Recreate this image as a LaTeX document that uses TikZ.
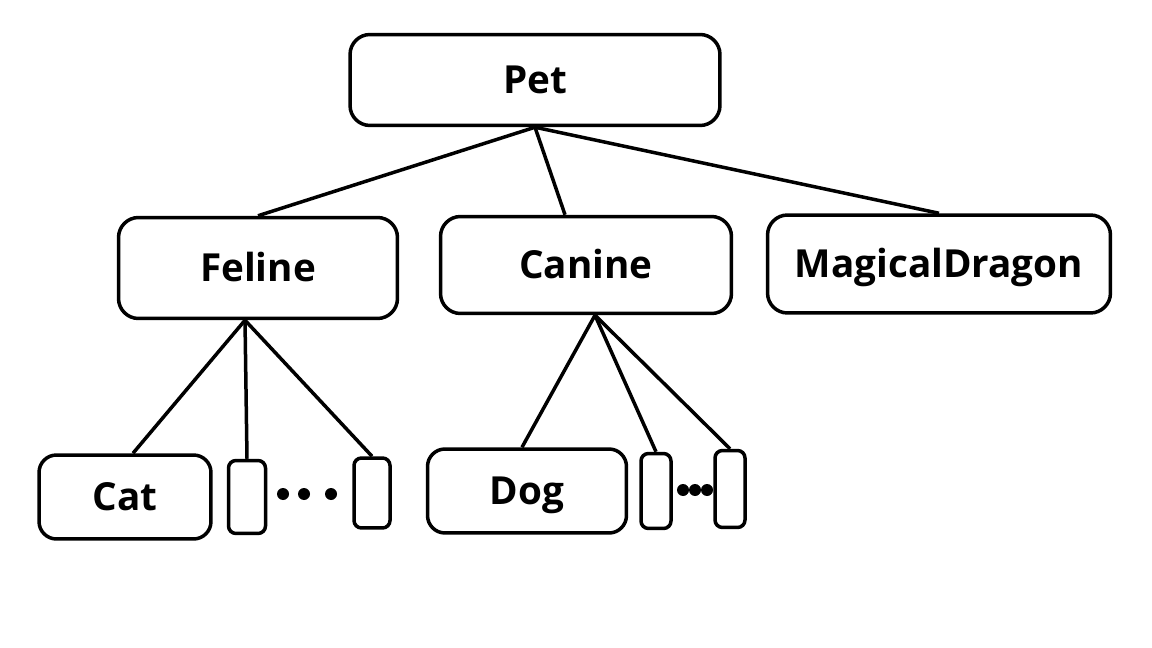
\documentclass[tikz,border=0pt]{standalone}
\usepackage{fontspec}
\setmainfont{Open Sans}
\usetikzlibrary{positioning}

\begin{document}
\begin{tikzpicture}[
    x=0.02cm, y=-0.02cm,
    box/.style={draw, rounded corners=0.4cm, line width=0.07cm, inner sep=0pt, align=center, text height=0.55cm, text depth=0pt, font=\fontsize{22}{24}\selectfont\bfseries},
    slot/.style={draw, rounded corners=0.15cm, line width=0.07cm, inner sep=0pt},
    dot/.style={circle, fill, inner sep=0pt, minimum size=0.24cm},
    link/.style={line width=0.07cm}
]
\useasboundingbox (0,0) rectangle (1152,648);
\node[box, minimum width=7.4cm, minimum height=1.82cm] (pet) at (535,80) {Pet};
\node[box, minimum width=5.58cm, minimum height=2.02cm] (feline) at (258,268) {Feline};
\node[box, minimum width=5.82cm, minimum height=1.94cm] (canine) at (586,265) {Canine};
\node[box, minimum width=6.86cm, minimum height=1.96cm] (dragon) at (939,264) {MagicalDragon};
\node[box, minimum width=3.44cm, minimum height=1.68cm, rounded corners=0.35cm] (cat) at (125,497) {Cat};
\node[slot, minimum width=0.74cm, minimum height=1.46cm] (catA) at (247,497) {};
\node[slot, minimum width=0.72cm, minimum height=1.4cm] (catB) at (372,493) {};
\node[box, minimum width=3.98cm, minimum height=1.68cm, rounded corners=0.35cm] (dog) at (527,491) {Dog};
\node[slot, minimum width=0.6cm, minimum height=1.5cm] (dogA) at (656,491) {};
\node[slot, minimum width=0.6cm, minimum height=1.54cm] (dogB) at (730,489) {};
\node[dot] (catdot1) at (283,494) {};
\node[dot] (catdot2) at (304,494) {};
\node[dot] (catdot3) at (331,494) {};
\node[dot] (dogdot1) at (683,490) {};
\node[dot] (dogdot2) at (695,490) {};
\node[dot] (dogdot3) at (707,490) {};
\draw[link] (pet.south) -- (feline.north);
\draw[link] (pet.south) -- ([xshift=-0.42cm]canine.north);
\draw[link] (pet.south) -- (dragon.north);
\draw[link] ([xshift=-0.26cm]feline.south) -- ([xshift=0.16cm]cat.north);
\draw[link] ([xshift=-0.26cm]feline.south) -- (catA.north);
\draw[link] ([xshift=-0.26cm]feline.south) -- (catB.north);
\draw[link] ([xshift=0.18cm]canine.south) -- ([xshift=-0.1cm]dog.north);
\draw[link] ([xshift=0.18cm]canine.south) -- (dogA.north);
\draw[link] ([xshift=0.18cm]canine.south) -- (dogB.north);
\end{tikzpicture}
\end{document}
